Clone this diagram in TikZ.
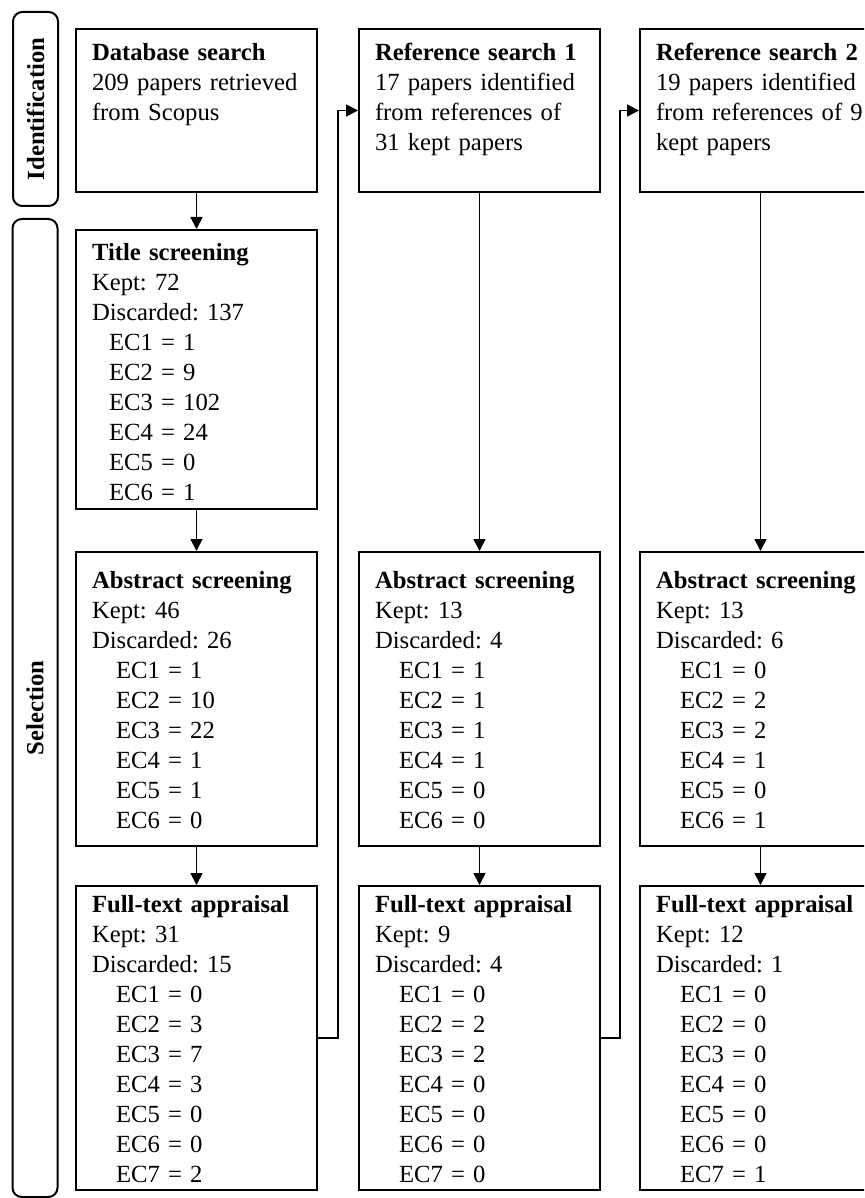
\documentclass[tikz,border=0pt]{standalone}
\usepackage{fontspec}
\setmainfont{Liberation Serif}
\usepackage{tikz}
\usetikzlibrary{arrows.meta,positioning}
\frenchspacing
\newcommand{\ecpad}{\hspace*{18pt}}
\newcommand{\ecpadtitle}{\hspace*{12.75pt}}

\begin{document}
\begin{tikzpicture}[
    x=0.75pt, y=-0.75pt,
    node distance=30pt and 30pt,
    box/.style={draw, line width=1.5pt, align=left, text width=156.75pt,
      inner xsep=12pt, inner ysep=0pt, font=\fontsize{18.5pt}{22.5pt}\selectfont},
    search/.style={box, text height=24pt, text depth=98.25pt},
    titlescr/.style={box, text height=22.5pt, text depth=186.75pt},
    absscr/.style={box, text height=27pt, text depth=193.5pt},
    fullscr/.style={box, text height=19.5pt, text depth=208.5pt},
    phase/.style={draw, line width=1.5pt, rounded corners=7pt, rotate=90, inner sep=0pt,
      minimum height=33.75pt, font=\fontsize{18.5pt}{22.5pt}\selectfont\bfseries},
    arrow/.style={-{Triangle[length=9pt,width=9pt]}, line width=1.3pt}
  ]
    \useasboundingbox (0,0) rectangle (864,1198);
    \clip (0,0) rectangle (864,1198);

    % phase labels
    \node[phase, minimum width=145.5pt] (ident) at (35.5,109) {Identification};
    \node[phase, minimum width=733.5pt] (select) at (35,708) {Selection};

    % searches
    \node[search, anchor=north west] (db) at (75,28)
      {\textbf{Database search}\\209 papers retrieved\\from Scopus};
    \node[search, right=30pt of db] (ref1)
      {\textbf{Reference search 1}\\17 papers identified\\from references of\\31 kept papers};
    \node[search, right=28.5pt of ref1] (ref2)
      {\textbf{Reference search 2}\\19 papers identified\\from references of 9\\kept papers};

    % screening, first column
    \node[titlescr, below=27pt of db] (title)
      {\textbf{Title screening}\\Kept: 72\\Discarded: 137\\
       \ecpadtitle EC1 = 1\\\ecpadtitle EC2 = 9\\\ecpadtitle EC3 = 102\\
       \ecpadtitle EC4 = 24\\\ecpadtitle EC5 = 0\\\ecpadtitle EC6 = 1};
    \node[absscr, below=30.75pt of title] (abs1)
      {\textbf{Abstract screening}\\Kept: 46\\Discarded: 26\\
       \ecpad EC1 = 1\\\ecpad EC2 = 10\\\ecpad EC3 = 22\\
       \ecpad EC4 = 1\\\ecpad EC5 = 1\\\ecpad EC6 = 0};
    \node[fullscr, below=28.5pt of abs1] (full1)
      {\textbf{Full-text appraisal}\\Kept: 31\\Discarded: 15\\
       \ecpad EC1 = 0\\\ecpad EC2 = 3\\\ecpad EC3 = 7\\\ecpad EC4 = 3\\
       \ecpad EC5 = 0\\\ecpad EC6 = 0\\\ecpad EC7 = 2};

    % screening, second column
    \node[absscr, right=30pt of abs1] (abs2)
      {\textbf{Abstract screening}\\Kept: 13\\Discarded: 4\\
       \ecpad EC1 = 1\\\ecpad EC2 = 1\\\ecpad EC3 = 1\\
       \ecpad EC4 = 1\\\ecpad EC5 = 0\\\ecpad EC6 = 0};
    \node[fullscr, right=30pt of full1] (full2)
      {\textbf{Full-text appraisal}\\Kept: 9\\Discarded: 4\\
       \ecpad EC1 = 0\\\ecpad EC2 = 2\\\ecpad EC3 = 2\\\ecpad EC4 = 0\\
       \ecpad EC5 = 0\\\ecpad EC6 = 0\\\ecpad EC7 = 0};

    % screening, third column
    \node[absscr, right=28.5pt of abs2] (abs3)
      {\textbf{Abstract screening}\\Kept: 13\\Discarded: 6\\
       \ecpad EC1 = 0\\\ecpad EC2 = 2\\\ecpad EC3 = 2\\
       \ecpad EC4 = 1\\\ecpad EC5 = 0\\\ecpad EC6 = 1};
    \node[fullscr, right=28.5pt of full2] (full3)
      {\textbf{Full-text appraisal}\\Kept: 12\\Discarded: 1\\
       \ecpad EC1 = 0\\\ecpad EC2 = 0\\\ecpad EC3 = 0\\\ecpad EC4 = 0\\
       \ecpad EC5 = 0\\\ecpad EC6 = 0\\\ecpad EC7 = 1};

    \draw[arrow] (db) -- (title);
    \draw[arrow] (title) -- (abs1);
    \draw[arrow] (abs1) -- (full1);
    \draw[arrow] (ref1) -- (abs2);
    \draw[arrow] (abs2) -- (full2);
    \draw[arrow] (ref2) -- (abs3);
    \draw[arrow] (abs3) -- (full3);
    \draw[arrow] (full1.east) -- ++(15pt,0) |- (ref1.west);
    \draw[arrow] (full2.east) -- ++(14.25pt,0) |- (ref2.west);
\end{tikzpicture}
\end{document}
